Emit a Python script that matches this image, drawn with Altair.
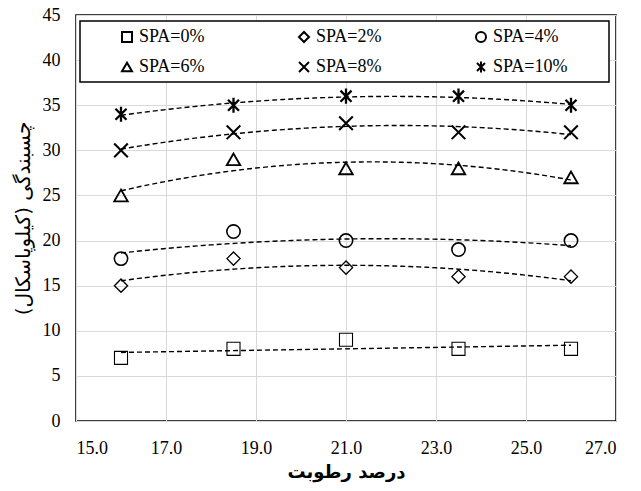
import altair as alt
import pandas as pd

# ---- data ----
moisture = [16.0, 18.5, 21.0, 23.5, 26.0]
series_names = ["SPA=0%", "SPA=2%", "SPA=4%", "SPA=6%", "SPA=8%", "SPA=10%"]
spa_0 = [7, 8, 9, 8, 8]
spa_2 = [15, 18, 17, 16, 16]
spa_4 = [18, 21, 20, 19, 20]
spa_6 = [25, 29, 28, 28, 27]
spa_8 = [30, 32, 33, 32, 32]
spa_10 = [34, 35, 36, 36, 35]
x_ticks = [15, 17, 19, 21, 23, 25, 27]
y_ticks = [0, 5, 10, 15, 20, 25, 30, 35, 40, 45]

x_title = "درصد رطوبت"
y_title = "\u200fچسبندگی (کیلوپاسکال)\u200f"

rows = []
for name, vals in zip(series_names, [spa_0, spa_2, spa_4, spa_6, spa_8, spa_10]):
    for xv, yv in zip(moisture, vals):
        rows.append({"series": name, "x": xv, "y": yv})
df = pd.DataFrame(rows)

X_PATH = "M-1,-1L1,1M-1,1L1,-1"
AST_PATH = "M-0.8,-0.8L0.8,0.8M-0.8,0.8L0.8,-0.8M0,-1.1L0,1.1"
shape_range = ["square", "diamond", "circle", "triangle-up", X_PATH, AST_PATH]
size_range = [160, 110, 160, 150, 170, 190]
stroke_range = [2.0, 1.6, 2.0, 2.2, 1.1, 2.3]
# reversed order for the hidden size / stroke scales (keeps them separate from the shape legend)
rev_names = series_names[::-1]
rev_size = size_range[::-1]
rev_stroke = stroke_range[::-1]

serif = "Liberation Serif"
arabic = "DejaVu Sans"

xscale = alt.Scale(domain=[15, 27], nice=False, zero=False)
yscale = alt.Scale(domain=[0, 45], nice=False)

xaxis = alt.Axis(values=x_ticks, format=".1f", title=x_title, labelPadding=18,
                 titlePadding=6, titleFont=arabic, titleFontSize=18, titleFontWeight="bold")
yaxis = alt.Axis(values=y_ticks, title=y_title, labelPadding=16,
                 titlePadding=9, titleFont=arabic, titleFontSize=20, titleFontWeight="normal")

base = alt.Chart(df)

enc_x = alt.X("x:Q", scale=xscale, axis=xaxis)
enc_y = alt.Y("y:Q", scale=yscale, axis=yaxis)

frame = alt.Chart(pd.DataFrame({"k": [0]})).mark_rect(
    fill="white", stroke="black", strokeWidth=1.5
).encode(x=alt.value(4), x2=alt.value(533), y=alt.value(6), y2=alt.value(67))

fit_poly = base.transform_filter(
    alt.datum.series != "SPA=0%"
).transform_regression(
    "x", "y", method="poly", order=2, groupby=["series"]
).mark_line(color="black", strokeDash=[5, 3], strokeWidth=1.4).encode(
    x=enc_x, y=enc_y, detail="series:N"
)

fit_lin = base.transform_filter(
    alt.datum.series == "SPA=0%"
).transform_regression(
    "x", "y", method="linear", groupby=["series"]
).mark_line(color="black", strokeDash=[5, 3], strokeWidth=1.4).encode(
    x=enc_x, y=enc_y, detail="series:N"
)

points = base.mark_point(filled=False, color="black", opacity=1).encode(
    x=enc_x,
    y=enc_y,
    shape=alt.Shape(
        "series:N",
        scale=alt.Scale(domain=series_names, range=shape_range),
        legend=alt.Legend(
            title=None, orient="none", legendX=42, legendY=13, columns=3,
            direction="horizontal",
            columnPadding=90, rowPadding=11, padding=0, zindex=5,
            symbolSize=100, symbolStrokeWidth=2, symbolStrokeColor="black",
            labelFont=serif, labelFontSize=18, labelColor="black", labelOffset=3,
        ),
    ),
    size=alt.Size("series:N", scale=alt.Scale(domain=rev_names, range=rev_size), legend=None),
    strokeWidth=alt.StrokeWidth("series:N", scale=alt.Scale(domain=rev_names, range=rev_stroke), legend=None),
)

chart = alt.layer(frame, fit_lin, fit_poly, points).properties(
    width=540, height=406,
    autosize=alt.AutoSizeParams(type="none"),
    padding={"left": 68, "top": 7, "right": 10, "bottom": 62},
).configure_view(
    stroke="black", strokeWidth=1.5
).configure_axis(
    domain=False, ticks=False, tickSize=0, grid=True, gridColor="#d9d9d9", gridWidth=1,
    labelFont=serif, labelFontSize=18, labelColor="black", titleColor="black",
)

chart.save("out.html", embed_options={"renderer": "svg", "actions": False})
